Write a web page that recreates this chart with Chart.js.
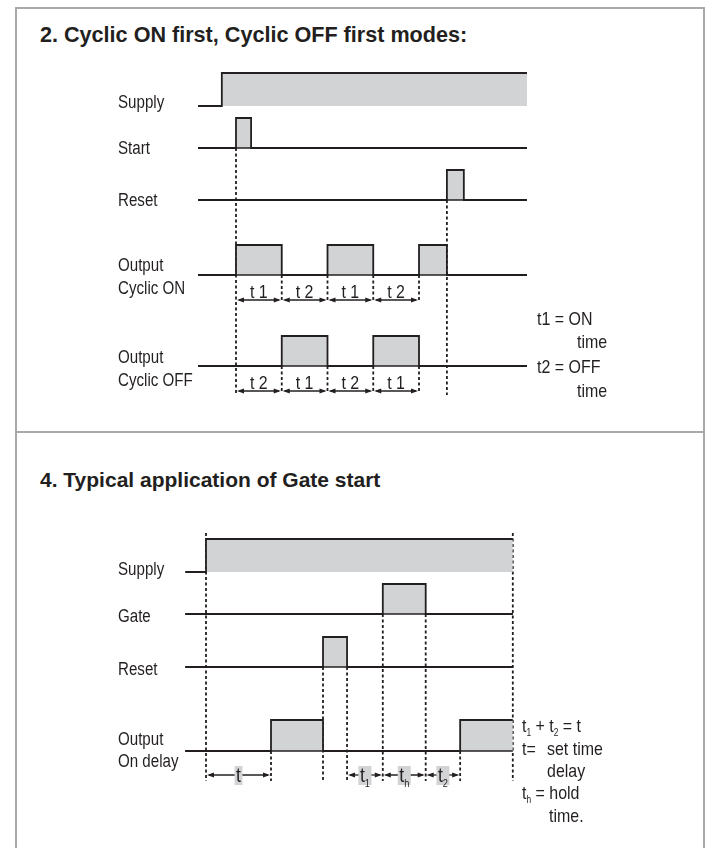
<!DOCTYPE html>
<html>
<head>
<meta charset="utf-8">
<title>Cyclic modes and Gate start timing</title>
<script src="https://cdn.jsdelivr.net/npm/chart.js@4.4.1/dist/chart.umd.min.js"></script>
<style>
  body { margin: 0; background: #fff; }
  #page { position: relative; width: 707px; height: 848px; overflow: hidden; }
  .panel { position: absolute; left: 15px; width: 686px; border: 2px solid #a7a9ac; }
  #panel1 { top: 7px; height: 422px; }
  #panel2 { top: 433px; height: 440px; border-top: none; }
  h2 { position: absolute; left: 40px; margin: 0; font: bold 21.6px "Liberation Sans", Arial, sans-serif; line-height: 21px; color: #231f20; white-space: nowrap; }
  canvas { position: absolute; left: 0; }
</style>
</head>
<body>
<div id="page">
  <div class="panel" id="panel1"></div>
  <div class="panel" id="panel2"></div>
  <h2 style="top:24px">2. Cyclic ON first, Cyclic OFF first modes:</h2>
  <h2 style="top:469px; font-size:21px">4. Typical application of Gate start</h2>
  <canvas id="cyclicChart" width="707" height="433" style="top:0"></canvas>
  <canvas id="gateChart" width="707" height="415" style="top:433px"></canvas>
</div>
<script>
// ---- data: Cyclic ON first / Cyclic OFF first (time in units of t1 = t2)
const cyclicRows = ['Supply', 'Start', 'Reset', 'Output\nCyclic ON', 'Output\nCyclic OFF'];
const cyclicHigh = [
    [[-0.31, 6.36]],               // Supply
    [[0, 0.33]],                   // Start
    [[4.61, 4.98]],                // Reset
    [[0, 1], [2, 3], [4, 4.61]],   // Output Cyclic ON
    [[1, 2], [3, 4]]               // Output Cyclic OFF
];
const cyclicSpan = [-0.83, 6.36];
const cyclicPeriods = [[0, 1], [1, 2], [2, 3], [3, 4]];
const cyclicOnLabels = ['t 1', 't 2', 't 1', 't 2'];
const cyclicOffLabels = ['t 2', 't 1', 't 2', 't 1'];
const cyclicLegend = ['t1 = ON', 'time', 't2 = OFF', 'time'];

// ---- data: Typical application of Gate start (time in units of set delay t)
const gateRows = ['Supply', 'Gate', 'Reset', 'Output\nOn delay'];
const gateHigh = [
    [[0, 4.72]],                   // Supply
    [[2.72, 3.38]],                // Gate
    [[1.80, 2.17]],                // Reset
    [[1.0, 1.80], [3.91, 4.72]]    // Output On delay
];
const gateSpan = [-0.32, 4.72];
const gatePeriods = [[0, 1.0], [2.17, 2.72], [2.72, 3.38], [3.38, 3.91]];
const gatePeriodLabels = ['t', 't_1', 't_h', 't_2'];
const gateLegend = ['t_1 + t_2 = t', 't=', 'set time', 'delay', 't_h = hold', 'time.'];

// ---- layout (page pixels) and styles
const INK = '#231f20';
const GREY = '#d1d3d4';
const FONT = '"Liberation Sans", Arial, sans-serif';
const SQUEEZE = 0.84;   // condensed look for the diagram lettering

const cyclicLayout = {
    originX: 236, unitX: 45.75, yMin: 0, yMax: 433, labelX: 118,
    rows: [
        { base: 106, h: 33, line: false, labelY: [108] },
        { base: 148, h: 30, line: true, labelY: [154] },
        { base: 200, h: 30, line: true, labelY: [206] },
        { base: 275, h: 30, line: true, labelY: [271, 294] },
        { base: 366, h: 30, line: true, labelY: [363, 386] }
    ],
    y: { start: 148, reset: 200, on: 275, off: 366, onArrow: 302, offArrow: 393, bottom: 395 },
    legendPos: [[537, 325], [577, 348], [537, 373], [577, 397]]
};
const cyclicGuides = [
    [0, 'start', 'bottom'], [cyclicHigh[2][0][0], 'reset', 'bottom'],
    ...cyclicPeriods.map(p => [p[1], 'on', 'onArrow']),
    ...cyclicPeriods.map(p => [p[1], 'off', 'offArrow'])
];

const gateLayout = {
    originX: 206, unitX: 65, yMin: 433, yMax: 848, labelX: 118,
    rows: [
        { base: 572, h: 33, line: false, labelY: [575] },
        { base: 614, h: 30, line: true, labelY: [622] },
        { base: 667, h: 30, line: true, labelY: [675] },
        { base: 751, h: 31, line: true, labelY: [745, 767] }
    ],
    y: { top: 533, gate: 614, reset: 667, out: 751, bottom: 781 },
    legendPos: [[522, 732], [522, 755], [547, 755], [547, 777], [522, 799], [549, 822]]
};
const gateGuides = [
    [0, 'top', 'bottom'], [4.72, 'top', 'bottom'],
    [gateHigh[3][0][0], 'out', 'bottom'], [gateHigh[3][1][0], 'out', 'bottom'],
    [gateHigh[2][0][0], 'reset', 'bottom'], [gateHigh[2][0][1], 'reset', 'bottom'],
    [gateHigh[1][0][0], 'gate', 'bottom'], [gateHigh[1][0][1], 'gate', 'bottom']
];

// outline of a signal: low level, step up at each "on", back down at each "off"
function outline(intervals, span) {
    const pts = [[span[0], 0]];
    intervals.forEach(([on, off]) => {
        pts.push([on, 0], [on, 1]);
        if (off < span[1]) pts.push([off, 1], [off, 0]);
        else pts.push([span[1], 1]);
    });
    if (pts[pts.length - 1][1] === 0) pts.push([span[1], 0]);
    return pts;
}

function plainLine(points) {
    return {
        data: points.map(([x, y]) => ({ x, y })),
        borderColor: INK, borderWidth: 1.6, pointRadius: 0, fill: false
    };
}

// condensed text with "_x" subscripts
function splitRich(text) {
    const parts = [];
    text.split(/(_.)/).forEach(s => {
        if (!s) return;
        if (s[0] === '_') parts.push({ s: s[1], sub: true });
        else parts.push({ s, sub: false });
    });
    return parts;
}

function richWidth(ctx, text, size) {
    let w = 0;
    splitRich(text).forEach(p => {
        ctx.font = (p.sub ? Math.round(size * 0.5) : size) + 'px ' + FONT;
        w += ctx.measureText(p.s).width;
    });
    return w * SQUEEZE;
}

function drawRich(ctx, text, x, y, size, align) {
    if (align === 'center') x -= richWidth(ctx, text, size) / 2;
    ctx.save();
    ctx.translate(x, y);
    ctx.scale(SQUEEZE, 1);
    ctx.textAlign = 'left';
    ctx.textBaseline = 'alphabetic';
    let cx = 0;
    splitRich(text).forEach(p => {
        ctx.font = (p.sub ? Math.round(size * 0.5) : size) + 'px ' + FONT;
        ctx.fillText(p.s, cx, p.sub ? size * 0.22 : 0);
        cx += ctx.measureText(p.s).width;
    });
    ctx.restore();
}

function drawArrow(ctx, x0, x1, y) {
    const len = 7, half = 2.6;
    ctx.lineWidth = 1.3;
    ctx.beginPath();
    ctx.moveTo(x0 + 3, y);
    ctx.lineTo(x1 - 3, y);
    ctx.stroke();
    ctx.beginPath();
    ctx.moveTo(x0 + 1, y); ctx.lineTo(x0 + 1 + len, y - half); ctx.lineTo(x0 + 1 + len, y + half);
    ctx.closePath(); ctx.fill();
    ctx.beginPath();
    ctx.moveTo(x1 - 1, y); ctx.lineTo(x1 - 1 - len, y - half); ctx.lineTo(x1 - 1 - len, y + half);
    ctx.closePath(); ctx.fill();
}

function annotations(rows, layout, arrowRows, legend) {
    return {
        id: 'annotations',
        afterDatasetsDraw(chart) {
            const { ctx, scales: { x, y } } = chart;
            ctx.save();
            ctx.fillStyle = INK;
            ctx.strokeStyle = INK;
            rows.forEach((name, i) => {
                name.split('\n').forEach((ln, k) => {
                    drawRich(ctx, ln, layout.labelX, y.getPixelForValue(layout.rows[i].labelY[k]), 18);
                });
            });
            arrowRows.forEach(a => {
                const ay = y.getPixelForValue(a.y);
                a.periods.forEach(([t0, t1], k) => {
                    const x0 = x.getPixelForValue(t0), x1 = x.getPixelForValue(t1);
                    drawArrow(ctx, x0, x1, ay);
                    const mid = (x0 + x1) / 2;
                    if (a.boxed) {
                        const w = richWidth(ctx, a.labels[k], 21);
                        ctx.fillStyle = GREY;
                        ctx.fillRect(mid - w / 2 - 1.5, ay - 9, w + 3, 19);
                        ctx.fillStyle = INK;
                        drawRich(ctx, a.labels[k], mid, ay + 7, 21, 'center');
                    } else {
                        drawRich(ctx, a.labels[k], mid, ay - 2, 19, 'center');
                    }
                });
            });
            legend.forEach((txt, k) => {
                const [lx, ly] = layout.legendPos[k];
                drawRich(ctx, txt, lx, y.getPixelForValue(ly), 19);
            });
            ctx.restore();
        }
    };
}

function timingChart(canvasId, rows, high, span, layout, guides, arrowRows, legend) {
    const canvas = document.getElementById(canvasId);
    const datasets = [];
    rows.forEach((name, i) => {
        const r = layout.rows[i];
        if (r.line) datasets.push(plainLine([[span[0], r.base], [span[1], r.base]]));
        datasets.push({
            label: name.replace('\n', ' '),
            data: outline(high[i], span).map(([t, lvl]) => ({ x: t, y: r.base - lvl * r.h })),
            borderColor: INK,
            borderWidth: 1.8,
            borderJoinStyle: 'miter',
            backgroundColor: GREY,
            fill: { value: r.base },
            pointRadius: 0
        });
    });
    guides.forEach(([t, from, to]) => {
        const ds = plainLine([[t, layout.y[from]], [t, layout.y[to]]]);
        ds.borderDash = [3, 2.5];
        ds.borderWidth = 1.8;
        datasets.push(ds);
    });
    const W = canvas.width;
    return new Chart(canvas, {
        type: 'line',
        data: { datasets },
        options: {
            responsive: false,
            animation: false,
            devicePixelRatio: 1,
            events: [],
            layout: { padding: 0 },
            scales: {
                x: {
                    type: 'linear', display: false, bounds: 'data',
                    min: -layout.originX / layout.unitX,
                    max: (W - layout.originX) / layout.unitX
                },
                y: {
                    type: 'linear', display: false, bounds: 'data', reverse: true,
                    min: layout.yMin, max: layout.yMax
                }
            },
            plugins: { legend: { display: false }, tooltip: { enabled: false } }
        },
        plugins: [annotations(rows, layout, arrowRows, legend)]
    });
}

timingChart('cyclicChart', cyclicRows, cyclicHigh, cyclicSpan, cyclicLayout, cyclicGuides, [
    { y: 300, periods: cyclicPeriods, labels: cyclicOnLabels, boxed: false },
    { y: 391, periods: cyclicPeriods, labels: cyclicOffLabels, boxed: false }
], cyclicLegend);

timingChart('gateChart', gateRows, gateHigh, gateSpan, gateLayout, gateGuides, [
    { y: 775, periods: gatePeriods, labels: gatePeriodLabels, boxed: true }
], gateLegend);
</script>
</body>
</html>
